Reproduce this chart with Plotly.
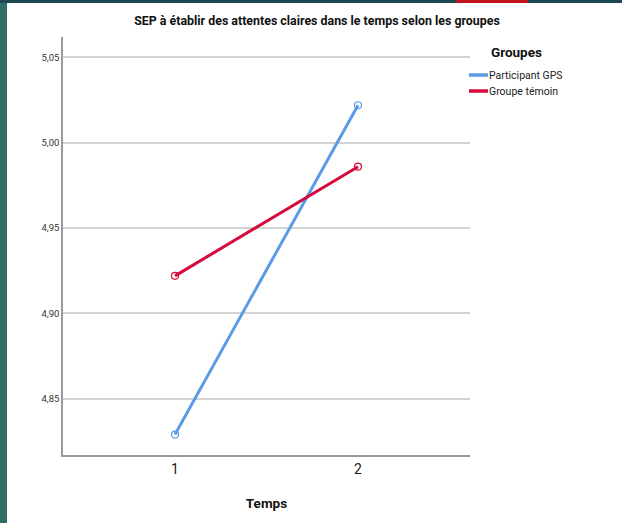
import plotly.graph_objects as go

temps = [1, 2]
gps_values = [4.829, 5.022]
temoin_values = [4.922, 4.986]
series_names = ["Participant GPS", "Groupe témoin"]
y_ticks = [4.85, 4.90, 4.95, 5.00, 5.05]

BLUE = "#5a9be6"
RED = "#d40a3c"
FONT = "Roboto, Liberation Sans, sans-serif"

fig = go.Figure()
for name, vals, col in [(series_names[0], gps_values, BLUE), (series_names[1], temoin_values, RED)]:
    fig.add_trace(go.Scatter(
        x=temps, y=vals, mode="lines+markers", name=name,
        line=dict(color=col, width=3),
        marker=dict(symbol="circle-open", size=7, color=col, line=dict(width=1.2, color=col)),
        showlegend=False,
    ))

W, H = 622, 523
L, R, T, B = 63, 152, 37, 68
pw, ph = W - L - R, H - T - B

def px(x):
    return (x - L) / pw

def py(y):
    return 1 - (y - T) / ph

shapes = [
    dict(type="rect", xref="paper", yref="paper", x0=px(0), x1=px(7), y0=py(H), y1=py(0),
         fillcolor="#2f6d66", line=dict(width=0), layer="above"),
    dict(type="rect", xref="paper", yref="paper", x0=px(0), x1=px(W), y0=py(3), y1=py(0),
         fillcolor="#1c4750", line=dict(width=0), layer="above"),
    dict(type="rect", xref="paper", yref="paper", x0=px(456), x1=px(528), y0=py(3), y1=py(0),
         fillcolor="#c0141e", line=dict(width=0), layer="above"),
]
annotations = [
    dict(text="<b>Groupes</b>", xref="paper", yref="paper", x=px(489), y=py(52),
         xanchor="left", yanchor="middle", showarrow=False,
         font=dict(family=FONT, size=13.5, color="#111")),
]
for i, (name, col) in enumerate([(series_names[0], BLUE), (series_names[1], RED)]):
    yy = [75, 91][i]
    shapes.append(dict(type="line", xref="paper", yref="paper", x0=px(469), x1=px(488),
                       y0=py(yy), y1=py(yy), line=dict(color=col, width=3.5)))
    annotations.append(dict(text=name, xref="paper", yref="paper", x=px(487), y=py(yy),
                            xanchor="left", yanchor="middle", showarrow=False,
                            font=dict(family=FONT, size=10.5, color="#222")))

fig.update_layout(
    width=W, height=H,
    margin=dict(l=L, r=R, t=T, b=B),
    paper_bgcolor="white", plot_bgcolor="white",
    separators=", ",
    font=dict(family=FONT, color="#222"),
    title=dict(text="<b>SEP à établir des attentes claires dans le temps selon les groupes</b>",
               x=317 / W, xref="container", xanchor="center",
               y=1 - 21 / H, yref="container", yanchor="middle",
               font=dict(family=FONT, size=12.4, color="#111")),
    xaxis=dict(range=[0.388, 2.612], tickvals=temps, ticktext=["1", "2"],
               showgrid=False, zeroline=False, showline=True, linecolor="#9a9a9a", linewidth=1.5,
               ticks="", tickfont=dict(size=14, color="#222"),
               title=dict(text="<b>Temps</b>", font=dict(size=13.5, color="#111"), standoff=23)),
    yaxis=dict(range=[4.817, 5.062], tickvals=y_ticks, tickformat=".2f",
               showgrid=True, gridcolor="#d4d4d4", gridwidth=1.5, zeroline=False,
               showline=True, linecolor="#9a9a9a", linewidth=1.5,
               ticks="", tickfont=dict(size=9.5, color="#333")),
    shapes=shapes, annotations=annotations,
)

fig.write_html("out.html", config={"displayModeBar": False},
               post_script="document.body.style.margin='0px';")
